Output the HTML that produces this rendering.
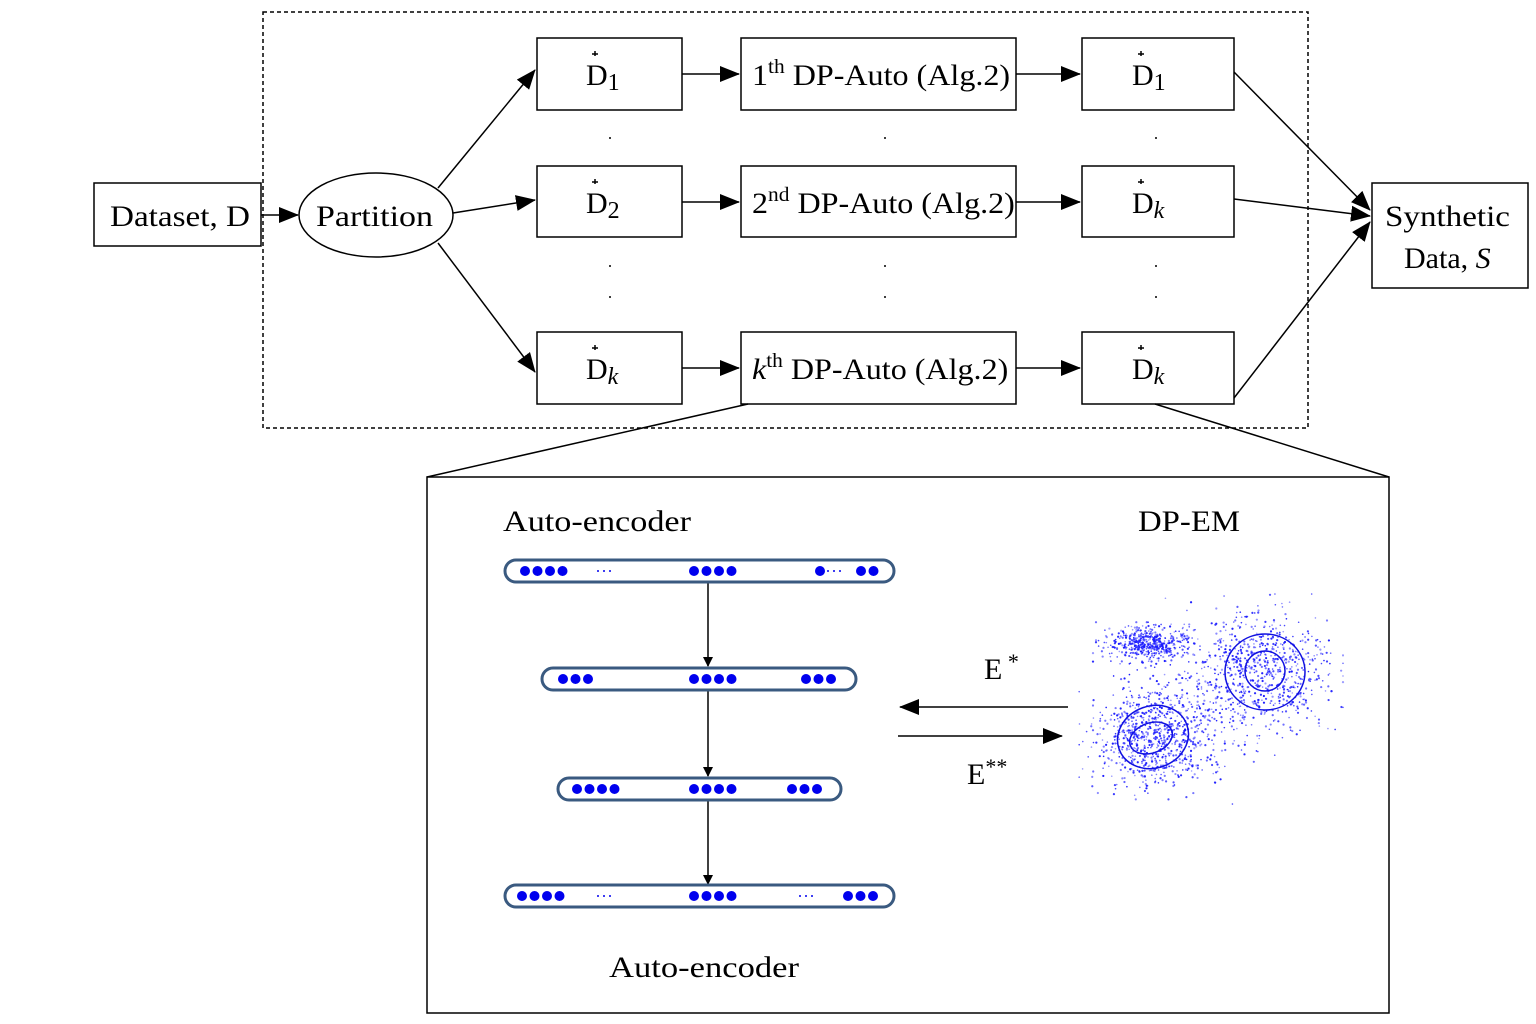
<!DOCTYPE html>
<html><head><meta charset="utf-8"><style>
html,body{margin:0;padding:0;background:#fff}
svg{display:block}
text{font-family:"Liberation Serif",serif;fill:#000}
</style></head><body>
<svg id="s" width="1536" height="1024" viewBox="0 0 1536 1024" xmlns="http://www.w3.org/2000/svg">
<defs>
<marker id="a" markerWidth="10" markerHeight="10" refX="9" refY="5" orient="auto" markerUnits="userSpaceOnUse" viewBox="0 0 10 10"><path d="M0,0 L10,5 L0,10z" fill="#000"/></marker>
<marker id="b" markerWidth="20" markerHeight="16" refX="19" refY="8" orient="auto" markerUnits="userSpaceOnUse" viewBox="0 0 20 16"><path d="M0,0 L20,8 L0,16z" fill="#000"/></marker>
</defs>
<rect x="263" y="12" width="1045" height="416" fill="none" stroke="#000" stroke-width="1.5" stroke-dasharray="4,3"/>
<g fill="#fff" stroke="#000" stroke-width="1.5">
<rect x="94" y="183" width="167" height="63"/>
<ellipse cx="376" cy="215" rx="77" ry="42"/>
<rect x="537" y="38" width="145" height="72"/><rect x="537" y="166" width="145" height="71"/><rect x="537" y="332" width="145" height="72"/>
<rect x="741" y="38" width="275" height="72"/><rect x="741" y="166" width="275" height="71"/><rect x="741" y="332" width="275" height="72"/>
<rect x="1082" y="38" width="152" height="72"/><rect x="1082" y="166" width="152" height="71"/><rect x="1082" y="332" width="152" height="72"/>
<rect x="1372" y="183" width="156" height="105"/>
<rect x="427" y="477" width="962" height="536"/>
</g>
<g stroke="#000" stroke-width="1.5" fill="none">
<line x1="261" y1="215" x2="298" y2="215" marker-end="url(#b)"/>
<line x1="438" y1="188" x2="535" y2="70" marker-end="url(#b)"/>
<line x1="453" y1="213" x2="535" y2="200" marker-end="url(#b)"/>
<line x1="438" y1="243" x2="535" y2="372" marker-end="url(#b)"/>
<line x1="682" y1="74" x2="739" y2="74" marker-end="url(#b)"/>
<line x1="682" y1="202" x2="739" y2="202" marker-end="url(#b)"/>
<line x1="682" y1="368" x2="739" y2="368" marker-end="url(#b)"/>
<line x1="1016" y1="74" x2="1080" y2="74" marker-end="url(#b)"/>
<line x1="1016" y1="202" x2="1080" y2="202" marker-end="url(#b)"/>
<line x1="1016" y1="368" x2="1080" y2="368" marker-end="url(#b)"/>
<line x1="1234" y1="72" x2="1370" y2="210" marker-end="url(#b)"/>
<line x1="1234" y1="199" x2="1370" y2="216" marker-end="url(#b)"/>
<line x1="1234" y1="398" x2="1370" y2="222" marker-end="url(#b)"/>
<line x1="748" y1="404" x2="427" y2="477"/>
<line x1="1155" y1="404" x2="1389" y2="477"/>
<line x1="1068" y1="707" x2="900" y2="707" marker-end="url(#b)"/>
<line x1="898" y1="736" x2="1062" y2="736" marker-end="url(#b)"/>
<line x1="708" y1="582" x2="708" y2="666" marker-end="url(#a)"/>
<line x1="708" y1="690" x2="708" y2="776" marker-end="url(#a)"/>
<line x1="708" y1="800" x2="708" y2="884" marker-end="url(#a)"/>
</g>
<g fill="#000"><circle cx="610" cy="138" r="1"/><circle cx="885" cy="138" r="1"/><circle cx="1156" cy="138" r="1"/>
<circle cx="610" cy="266" r="1"/><circle cx="885" cy="266" r="1"/><circle cx="1156" cy="266" r="1"/>
<circle cx="610" cy="297" r="1"/><circle cx="885" cy="297" r="1"/><circle cx="1156" cy="297" r="1"/></g>
<g font-size="30">
<text x="110" y="226" textLength="140" lengthAdjust="spacingAndGlyphs">Dataset, D</text>
<text x="316" y="226" textLength="117" lengthAdjust="spacingAndGlyphs">Partition</text>
<text x="1385" y="226" textLength="125" lengthAdjust="spacingAndGlyphs">Synthetic</text>
<text x="1404" y="268">Data, <tspan font-style="italic">S</tspan></text>
<text x="586" y="85">D<tspan font-size="24" dy="5">1</tspan></text>
<text x="586" y="213">D<tspan font-size="24" dy="5">2</tspan></text>
<text x="586" y="379">D<tspan font-size="24" dy="5" font-style="italic">k</tspan></text>
<text x="1132" y="85">D<tspan font-size="24" dy="5">1</tspan></text>
<text x="1132" y="213">D<tspan font-size="24" dy="5" font-style="italic">k</tspan></text>
<text x="1132" y="379">D<tspan font-size="24" dy="5" font-style="italic">k</tspan></text>
<g transform="translate(752,0) scale(1.07,1) translate(-752,0)">
<text x="752" y="85">1<tspan font-size="20" dy="-12">th</tspan><tspan dy="12"> DP-Auto (Alg.2)</tspan></text>
<text x="752" y="213">2<tspan font-size="20" dy="-12">nd</tspan><tspan dy="12"> DP-Auto (Alg.2)</tspan></text>
<text x="752" y="379"><tspan font-style="italic">k</tspan><tspan font-size="20" dy="-12">th</tspan><tspan dy="12"> DP-Auto (Alg.2)</tspan></text>
</g>
<text x="503" y="531" textLength="188" lengthAdjust="spacingAndGlyphs">Auto-encoder</text>
<text x="1138" y="531" textLength="102" lengthAdjust="spacingAndGlyphs">DP-EM</text>
<text x="609" y="977" textLength="190" lengthAdjust="spacingAndGlyphs">Auto-encoder</text>
<text x="984" y="679">E<tspan font-size="22" dy="-10"> *</tspan></text>
<text x="967" y="784">E<tspan font-size="22" dy="-10">**</tspan></text>
</g>
<g stroke="#000" stroke-width="1.5">
<line x1="592" y1="54" x2="598" y2="54"/><line x1="595" y1="51" x2="595" y2="56"/>
<line x1="592" y1="182" x2="598" y2="182"/><line x1="595" y1="179" x2="595" y2="184"/>
<line x1="592" y1="348" x2="598" y2="348"/><line x1="595" y1="345" x2="595" y2="350"/>
<line x1="1138" y1="54" x2="1144" y2="54"/><line x1="1141" y1="51" x2="1141" y2="56"/>
<line x1="1138" y1="182" x2="1144" y2="182"/><line x1="1141" y1="179" x2="1141" y2="184"/>
<line x1="1138" y1="348" x2="1144" y2="348"/><line x1="1141" y1="345" x2="1141" y2="350"/>
</g>
<g fill="#fff" stroke="#3a5a80" stroke-width="3">
<rect x="505" y="560" width="389" height="22" rx="11"/>
<rect x="542" y="668" width="314" height="22" rx="11"/>
<rect x="558" y="778" width="283" height="22" rx="11"/>
<rect x="505" y="885" width="389" height="22" rx="11"/>
</g>
<g id="dots" fill="#0000ee"></g>
<g id="sc" fill="#1a1aff"></g>
<g fill="none" stroke="#1010e0" stroke-width="1.5">
<ellipse cx="1265" cy="672" rx="40" ry="38"/>
<ellipse cx="1265" cy="671" rx="20" ry="20"/>
<ellipse cx="1153" cy="737" rx="36" ry="31" transform="rotate(-20 1153 737)"/>
<ellipse cx="1151" cy="738" rx="22" ry="15" transform="rotate(-20 1151 738)"/>
</g>
</svg>
<script>
var ns="http://www.w3.org/2000/svg";
var d=document.getElementById("dots");
function c(g,x,y,r,o){var e=document.createElementNS(ns,"circle");e.setAttribute("cx",x);e.setAttribute("cy",y);e.setAttribute("r",r);if(o)e.setAttribute("opacity",o);g.appendChild(e);}
function row(x0,n,y){for(var i=0;i<n;i++)c(d,x0+i*12.5,y,5);}
function sm(x0,y){for(var i=0;i<3;i++)c(d,x0+i*6,y,1);}
row(525,4,571);sm(598,571);row(694,4,571);c(d,820,571,5);sm(828,571);row(861,2,571);
row(563,3,679);row(694,4,679);row(806,3,679);
row(577,4,789);row(694,4,789);row(792,3,789);
row(522,4,896);sm(598,896);row(694,4,896);sm(800,896);row(848,3,896);
var s=document.getElementById("sc");var seed=7;
function r(){seed=(seed*16807)%2147483647;return seed/2147483647;}
function g(){var v=Math.sqrt(-2*Math.log(r()+1e-9))*Math.cos(6.283*r());return Math.max(-2.6,Math.min(2.6,v));}
function cl(cx,cy,sx,sy,n){for(var i=0;i<n;i++)c(s,cx+g()*sx,cy+g()*sy,r()<0.5?1.1:0.8,(0.4+r()*0.6).toFixed(2));}
cl(1148,643,20,8,500);cl(1265,672,30,30,650);cl(1152,737,28,24,750);cl(1210,700,45,40,250);
</script>
</body></html>
